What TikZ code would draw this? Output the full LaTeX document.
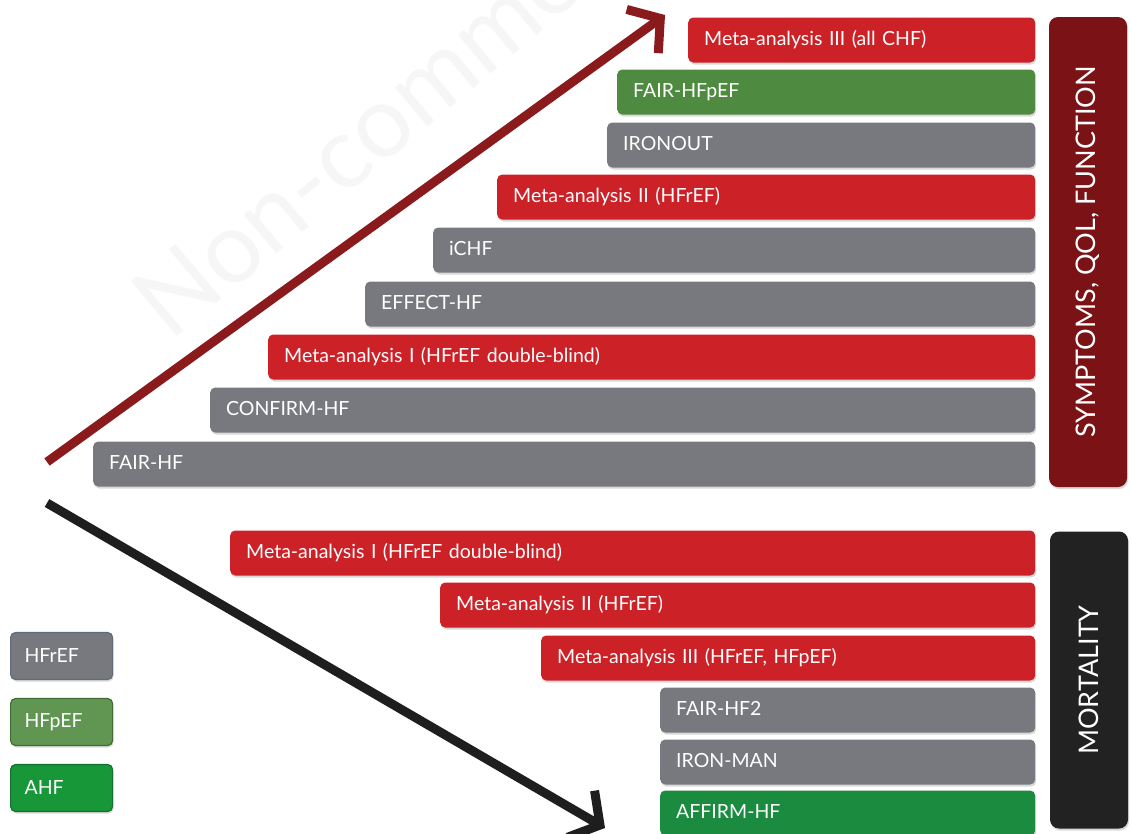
\documentclass[tikz,border=0pt]{standalone}
\usepackage{fontspec}
\setmainfont{Lato}
\usepackage{xcolor}
\usetikzlibrary{arrows.meta, positioning, shadows}

\definecolor{barred}{HTML}{CD2128}
\definecolor{bargreen}{HTML}{4E8A3F}
\definecolor{bargrey}{HTML}{78797E}
\definecolor{barahf}{HTML}{1B8B3F}
\definecolor{symred}{HTML}{7A1216}
\definecolor{mortblk}{HTML}{222222}
\definecolor{arrred}{HTML}{8A1A1C}
\definecolor{arrblk}{HTML}{1E1E1E}
\definecolor{keyedge}{HTML}{5E6B7A}

\begin{document}
\begin{tikzpicture}[x=1pt, y=-1pt, every node/.style={font=\fontsize{19.5}{21}\selectfont, text=white}]
\tikzset{trial/.style={anchor=west, rounded corners=5pt, minimum height=45pt, inner xsep=16pt,
    text width=1003pt-#1pt, align=left, text height=14pt, text depth=3pt,
    drop shadow={shadow xshift=1pt, shadow yshift=-2pt, opacity=0.3}},
  group/.style={rounded corners=9pt, rotate=90, font=\fontsize{27}{29}\selectfont,
    drop shadow={shadow xshift=1pt, shadow yshift=-2pt, opacity=0.3}},
  key/.style={anchor=west, rounded corners=5pt, minimum width=102pt, minimum height=47pt,
    inner xsep=14pt, text width=74pt, align=left, line width=1.2pt,
    drop shadow={shadow xshift=1pt, shadow yshift=-2pt, opacity=0.3}}}
\useasboundingbox (0,0) rectangle (1132,833);

% watermark
\node[anchor=base west, rotate=40, text=black, opacity=0.035, font=\fontsize{100}{100}\selectfont] (wm) at (168,345) {Non-commercial};

% symptoms, QoL, function
\node[trial=688, fill=barred] (m3) at (688,40) {Meta-analysis III (all CHF)};
\node[trial=617, fill=bargreen] (fp) at (617,92) {FAIR-HFpEF};
\node[trial=607, fill=bargrey] (io) at (607,145) {IRONOUT};
\node[trial=497, fill=barred] (m2) at (497,197) {Meta-analysis II (HFrEF)};
\node[trial=433, fill=bargrey] (ic) at (433,250) {iCHF};
\node[trial=365, fill=bargrey] (ef) at (365,304) {EFFECT-HF};
\node[trial=268, fill=barred] (m1) at (268,357) {Meta-analysis I (HFrEF double-blind)};
\node[trial=210, fill=bargrey] (cf) at (210,410) {CONFIRM-HF};
\node[trial=93, fill=bargrey] (fh) at (93,464) {FAIR-HF};
\node[group, fill=symred, minimum width=470pt, minimum height=78pt] (sym) at (1088,252) {SYMPTOMS, QOL, FUNCTION};

% mortality
\node[trial=230, fill=barred] (n1) at (230,553) {Meta-analysis I (HFrEF double-blind)};
\node[trial=440, fill=barred] (n2) at (440,605) {Meta-analysis II (HFrEF)};
\node[trial=541, fill=barred] (n3) at (541,658) {Meta-analysis III (HFrEF, HFpEF)};
\node[trial=660, fill=bargrey] (f2) at (660,710) {FAIR-HF2};
\node[trial=660, fill=bargrey] (im) at (660,762) {IRON-MAN};
\node[trial=660, fill=barahf] (af) at (660,813) {AFFIRM-HF};
\node[group, fill=mortblk, minimum width=297pt, minimum height=78pt] (mort) at (1089,680) {MORTALITY};

% legend
\node[key, fill=bargrey, draw=keyedge] (kr) at (10,656) {HFrEF};
\node[key, fill=bargreen!90!white, draw=bargreen!80!black] (kp) at (10,722) {HFpEF};
\node[key, fill=barahf!90!green, draw=barahf!80!black] (ka) at (10,788) {AHF};

% arrows
\coordinate (rs) at (47,462);
\coordinate (re) at (665,15);
\coordinate (bs) at (47,503);
\coordinate (be) at (605,828);
\draw[arrred, line width=9pt, -{Straight Barb[length=22pt, width=54pt]}] (rs) -- (re);
\draw[arrblk, line width=9pt, -{Straight Barb[length=22pt, width=54pt]}] (bs) -- (be);
\end{tikzpicture}
\end{document}
